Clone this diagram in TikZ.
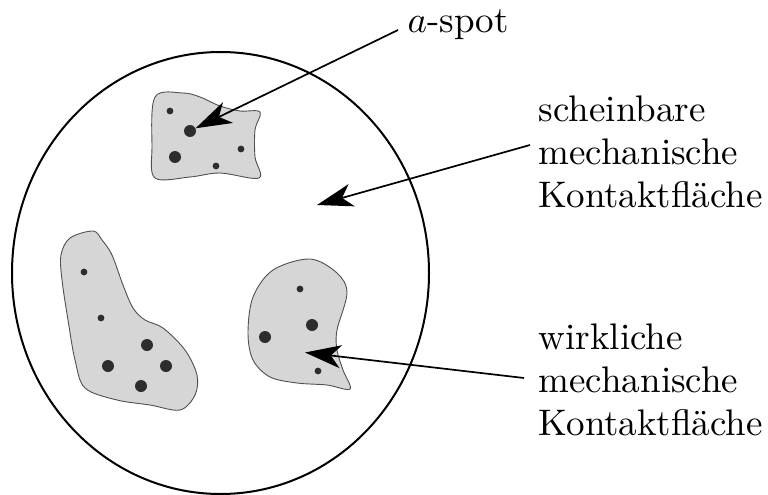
\documentclass[tikz,border=0pt]{standalone}
\usetikzlibrary{arrows.meta}
\definecolor{blobfill}{RGB}{214,214,214}
\definecolor{blobline}{RGB}{80,80,80}
\definecolor{dotc}{RGB}{45,45,45}
\renewcommand{\arraystretch}{0.97}
\begin{document}
\begin{tikzpicture}[x=1pt,y=-1pt,
  blob/.style={fill=blobfill,draw=blobline,line width=0.9pt},
  bigdot/.style={circle,fill=dotc,inner sep=0pt,minimum size=12pt},
  smalldot/.style={circle,fill=dotc,inner sep=0pt,minimum size=6.8pt},
  ptr/.style={line width=1.7pt,-{Stealth[length=36pt,width=23pt,inset=10pt]}},
  lbl/.style={scale=3.7,inner sep=0pt,anchor=base west}]
\useasboundingbox (0,0) rectangle (768,495);
% apparent contact area
\draw[line width=2pt] (220.5,273) ellipse [x radius=208.5, y radius=221];
% blob 1
\draw[blob] plot[smooth cycle, tension=0.55] coordinates {
  (155,97) (183,93) (200,97) (220,106) (240,111) (260,112)
  (255,130) (255,157) (259,178) (220,173) (190,177) (155,178) (152,147)};
% blob 2
\draw[blob] plot[smooth cycle, tension=0.55] coordinates {
  (93,231) (70,238) (61,255) (62,280) (68,320) (75,360) (85,388) (117,400)
  (150,405) (180,410) (195,395) (197,375) (185,350) (163,328) (145,320)
  (133,308) (123,285) (112,255) (102,240)};
% blob 3
\draw[blob] plot[smooth cycle, tension=0.55] coordinates {
  (310,259) (337,273) (347,293) (337,330) (337,350) (343,370) (350,389)
  (327,385) (297,383) (270,377) (253,360) (248,333) (253,297) (273,270)};
% dots
\node[smalldot] (b1s1) at (170,111) {};
\node[bigdot]   (b1l1) at (190,131) {};
\node[bigdot]   (b1l2) at (175,157) {};
\node[smalldot] (b1s2) at (241,149) {};
\node[smalldot] (b1s3) at (216,166) {};
\node[smalldot] (b2s1) at (84,272) {};
\node[smalldot] (b2s2) at (101,318) {};
\node[bigdot]   (b2l1) at (147,345) {};
\node[bigdot]   (b2l2) at (108,366) {};
\node[bigdot]   (b2l3) at (166,366) {};
\node[bigdot]   (b2l4) at (141,386) {};
\node[smalldot] (b3s1) at (300,289) {};
\node[bigdot]   (b3l1) at (312,325) {};
\node[bigdot]   (b3l2) at (265,337) {};
\node[smalldot] (b3s2) at (318,371) {};
% labels
\node[lbl] (aspot) at (407,33) {$a$-spot};
\node[lbl] (schein) at (538,121.7) {\begin{tabular}[t]{@{}l@{}}scheinbare\\mechanische\\Kontaktfläche\end{tabular}};
\node[lbl] (wirk) at (538,349) {\begin{tabular}[t]{@{}l@{}}wirkliche\\mechanische\\Kontaktfläche\end{tabular}};
% pointer ends
\coordinate (aspotend) at (398,30);
\coordinate (scheinend) at (530,145);
\coordinate (scheintip) at (317,205);
\coordinate (wirkend) at (524,378);
\coordinate (wirktip) at (305,352.5);
\draw[ptr] (aspotend) -- (b1l1);
\draw[ptr] (scheinend) -- (scheintip);
\draw[ptr] (wirkend) -- (wirktip);
\end{tikzpicture}
\end{document}
